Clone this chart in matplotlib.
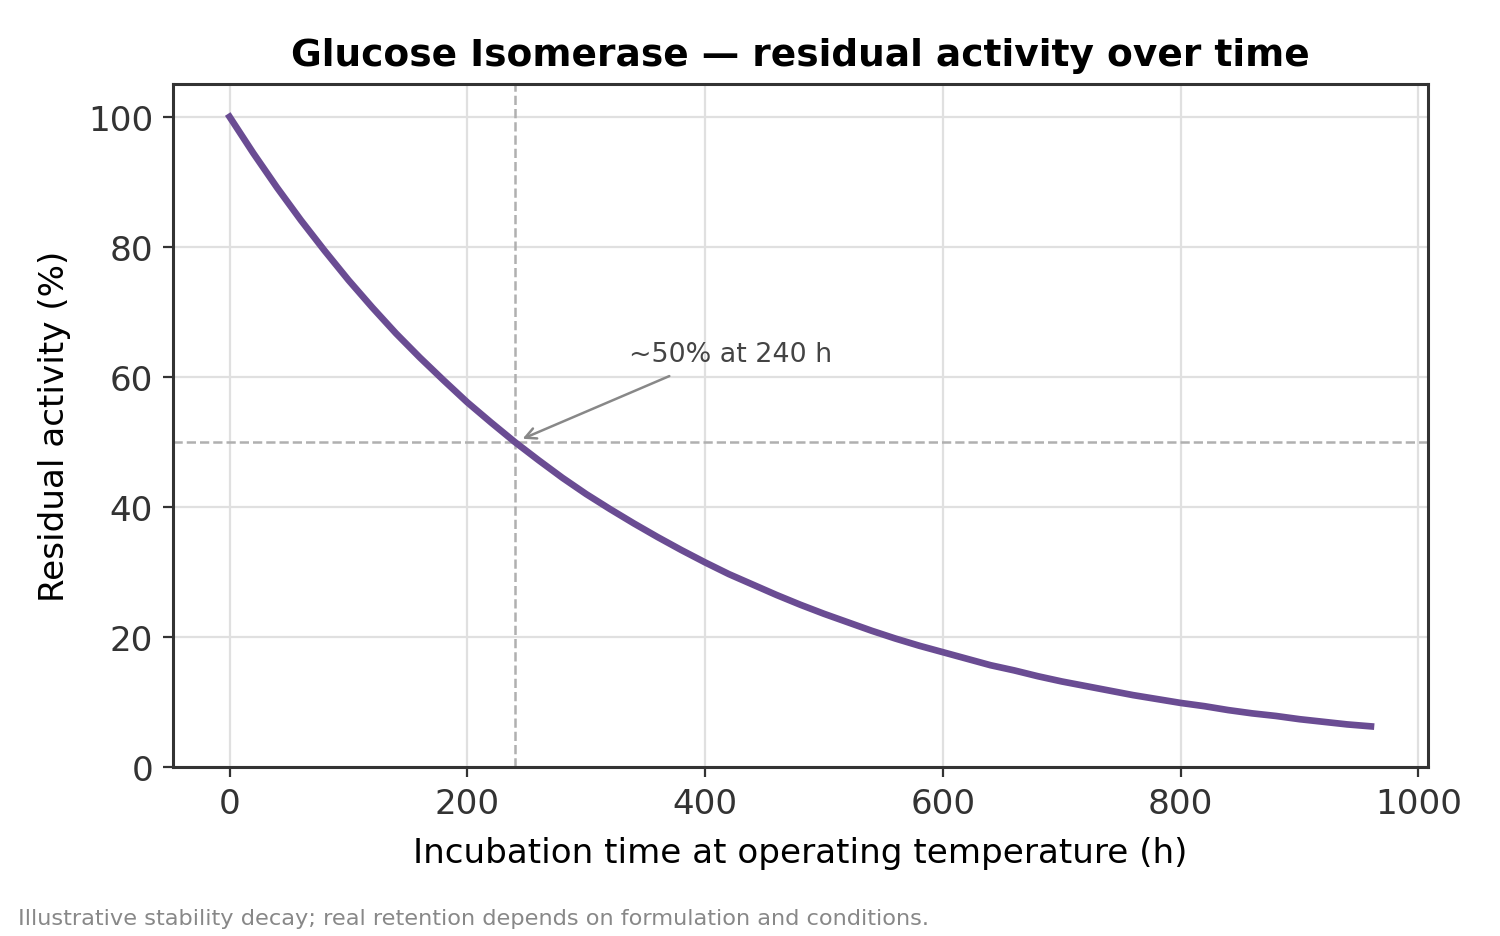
import numpy as np
import matplotlib.pyplot as plt

# readings (hours, % residual activity)
hours = [0, 20, 40, 60, 80, 100, 120, 140, 160, 180, 200, 220, 240, 260, 280, 300,
         320, 340, 360, 380, 400, 420, 440, 460, 480, 500, 520, 540, 560, 580, 600,
         620, 640, 660, 680, 700, 720, 740, 760, 780, 800, 820, 840, 860, 880, 900,
         920, 940, 960]
activity = [100, 94.4, 89.1, 84.1, 79.4, 74.9, 70.7, 66.7, 63.0, 59.5, 56.1, 53.0, 50.0,
            47.2, 44.5, 42.0, 39.7, 37.5, 35.4, 33.4, 31.5, 29.7, 28.1, 26.5, 25.0, 23.6,
            22.3, 21.0, 19.8, 18.7, 17.7, 16.7, 15.7, 14.9, 14.0, 13.2, 12.5, 11.8, 11.1,
            10.5, 9.9, 9.4, 8.8, 8.3, 7.9, 7.4, 7.0, 6.6, 6.3]
half_time = 240
half_level = 50

fig, ax = plt.subplots(figsize=(7.5, 4.685), dpi=200)
fig.subplots_adjust(left=0.115, right=0.952, top=0.909, bottom=0.18)

ax.plot(hours, activity, color='#6a4c93', lw=2.4, zorder=3)
ax.axvline(half_time, color='#b0b0b0', ls='--', lw=0.9, zorder=2)
ax.axhline(half_level, color='#b0b0b0', ls='--', lw=0.9, zorder=2)

ax.annotate('~50% at 240 h', xy=(half_time, half_level), xytext=(336, 61.5),
            fontsize=9.7, color='#444444', ha='left', va='bottom',
            arrowprops=dict(arrowstyle='->', color='#888888', lw=0.9,
                            relpos=(0.3, 0), shrinkA=3, shrinkB=3))

ax.set_ylim(0, 105)
ax.set_title('Glucose Isomerase — residual activity over time',
             fontsize=13.5, fontweight='bold', pad=7)
ax.set_xlabel('Incubation time at operating temperature (h)', fontsize=12.3, labelpad=6)
ax.set_ylabel('Residual activity (%)', fontsize=12.3, labelpad=6)
ax.tick_params(labelsize=12.3, colors='#333333', labelcolor='#333333')
ax.grid(True, color='#e0e0e0', lw=0.8)
ax.set_axisbelow(True)
for s in ax.spines.values():
    s.set_color('#333333')
    s.set_linewidth(1.1)

fig.text(0.012, 0.009, 'Illustrative stability decay; real retention depends on formulation and conditions.',
         fontsize=8.1, color='#888888', ha='left', va='bottom')

fig.savefig('out.png', dpi=200)
